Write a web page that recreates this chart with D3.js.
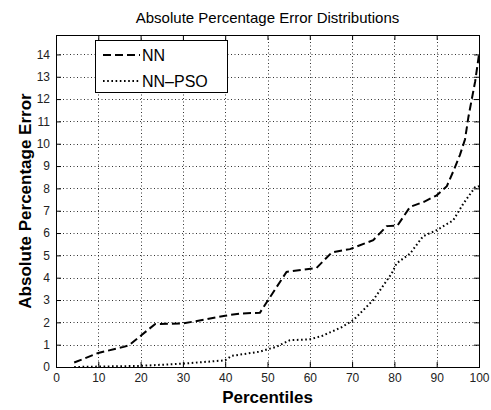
<!DOCTYPE html>
<html>
<head>
<meta charset="utf-8">
<script src="https://cdn.jsdelivr.net/npm/d3@7"></script>
<style>
  body { margin: 0; background: #fff; }
  svg { display: block; font-family: "Liberation Sans", Arial, sans-serif; }
</style>
</head>
<body>
<script>
"use strict";

// percentiles / error values
var nnPct = [4.3, 10, 16, 17.3, 23.4, 30, 35, 40, 44, 48.2, 54.5, 61.6, 65.2, 69.5, 75, 78.2, 80.7, 83.7, 87, 90, 92.4, 94, 95.5, 96.7, 97.5, 98.3, 99.1, 100];
var nnErr = [0.2, 0.63, 0.9, 0.98, 1.92, 1.95, 2.12, 2.3, 2.4, 2.43, 4.26, 4.44, 5.13, 5.28, 5.68, 6.31, 6.33, 7.17, 7.4, 7.69, 8.1, 8.8, 9.5, 10.2, 11.2, 12.0, 12.8, 14.0];

var psoPct = [4.3, 20, 30, 40, 41.5, 48, 52, 55.3, 60, 63, 67.5, 70.3, 75, 79.4, 80.5, 83.7, 86.8, 90, 93.9, 96.3, 99.1, 100];
var psoErr = [0.0, 0.05, 0.15, 0.3, 0.5, 0.68, 0.9, 1.2, 1.24, 1.4, 1.78, 2.1, 3.0, 4.2, 4.64, 5.08, 5.86, 6.13, 6.57, 7.32, 8.06, 8.1];

var xTicks = d3.range(0, 101, 10);
var yTicks = d3.range(0, 15, 1);
var seriesNames = ["NN", "NN\u2013PSO"];

window.onload = function() {
    var width = 491, height = 410;
    var left = 56, right = 479, top = 35, bottom = 367;

    var svg = d3.select("body").append("svg")
        .attr("width", width)
        .attr("height", height);

    var x = d3.scaleLinear().domain([0, 100]).range([left, right]);
    var y = d3.scaleLinear().domain([0, 14.87]).range([bottom, top]);

    // dotted grid
    var grid = svg.append("g").attr("stroke", "#333").attr("stroke-width", 1)
        .attr("stroke-dasharray", "1,2.5");
    grid.selectAll(".gx").data(xTicks.slice(1, -1)).enter().append("line")
        .attr("x1", d => Math.round(x(d)) + 0.5).attr("x2", d => Math.round(x(d)) + 0.5)
        .attr("y1", top).attr("y2", bottom);
    grid.selectAll(".gy").data(yTicks.slice(1)).enter().append("line")
        .attr("y1", d => Math.round(y(d)) + 0.5).attr("y2", d => Math.round(y(d)) + 0.5)
        .attr("x1", left).attr("x2", right);

    // axes, ticks pointing inward like matlab
    var axB = svg.append("g").attr("transform", "translate(0," + bottom + ")")
        .call(d3.axisBottom(x).tickValues(xTicks).tickSizeInner(-5).tickSizeOuter(0).tickPadding(6));
    var axL = svg.append("g").attr("transform", "translate(" + left + ",0)")
        .call(d3.axisLeft(y).tickValues(yTicks).tickSizeInner(-5).tickSizeOuter(0).tickPadding(6));
    svg.append("g").attr("transform", "translate(0," + top + ")")
        .call(d3.axisTop(x).tickValues(xTicks).tickSizeInner(-5).tickSizeOuter(0).tickFormat(""));
    svg.append("g").attr("transform", "translate(" + right + ",0)")
        .call(d3.axisRight(y).tickValues(yTicks).tickSizeInner(-5).tickSizeOuter(0).tickFormat(""));

    svg.selectAll(".domain").remove();
    svg.selectAll(".tick line").attr("stroke", "#000");
    [axB, axL].forEach(function(a) {
        a.selectAll("text").attr("font-size", 12).attr("fill", "#222")
            .attr("font-family", "Liberation Sans, Arial, sans-serif");
    });

    svg.append("rect")
        .attr("x", left + 0.5).attr("y", top + 0.5)
        .attr("width", right - left).attr("height", bottom - top)
        .attr("fill", "none").attr("stroke", "#000").attr("stroke-width", 1);

    var line = d3.line().x(d => x(d[0])).y(d => y(d[1]));
    var nnData = nnPct.map((p, i) => [p, nnErr[i]]);
    var psoData = psoPct.map((p, i) => [p, psoErr[i]]);

    svg.append("path").datum(psoData).attr("d", line)
        .attr("fill", "none").attr("stroke", "#000").attr("stroke-width", 2)
        .attr("stroke-dasharray", "1.6,2.6");
    svg.append("path").datum(nnData).attr("d", line)
        .attr("fill", "none").attr("stroke", "#000").attr("stroke-width", 2)
        .attr("stroke-dasharray", "8,4");

    // title and labels
    svg.append("text").attr("x", (left + right) / 2).attr("y", 23)
        .attr("text-anchor", "middle").attr("font-size", 15)
        .text("Absolute Percentage Error Distributions");
    svg.append("text").attr("x", (left + right) / 2).attr("y", 403)
        .attr("text-anchor", "middle").attr("font-size", 17).attr("font-weight", "bold")
        .text("Percentiles");
    svg.append("text")
        .attr("transform", "translate(31," + (top + bottom) / 2 + ") rotate(-90)")
        .attr("text-anchor", "middle").attr("font-size", 17).attr("font-weight", "bold")
        .text("Absolute Percentage Error");

    // legend
    var lg = svg.append("g");
    lg.append("rect").attr("x", 95.5).attr("y", 40.5).attr("width", 132).attr("height", 52)
        .attr("fill", "#fff").attr("stroke", "#000");
    var dashes = ["8,4", "1.6,2.6"];
    seriesNames.forEach(function(name, i) {
        var ly = 55 + i * 26;
        lg.append("line").attr("x1", 103).attr("x2", 140).attr("y1", ly).attr("y2", ly)
            .attr("stroke", "#000").attr("stroke-width", 2).attr("stroke-dasharray", dashes[i]);
        lg.append("text").attr("x", 142).attr("y", ly + 6).attr("font-size", 16).text(name);
    });
};
</script>
</body>
</html>
